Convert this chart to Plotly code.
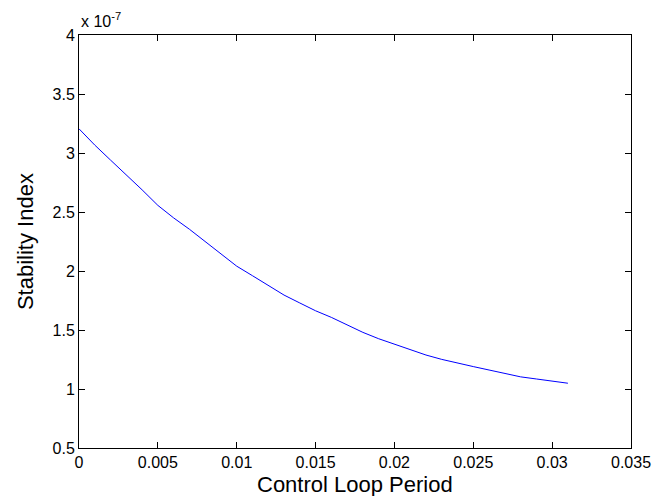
import plotly.graph_objects as go

# Data (y values in units of 1e-7)
control_loop_period = [0.000, 0.001, 0.002, 0.003, 0.004, 0.005, 0.006, 0.007,
                       0.008, 0.009, 0.010, 0.011, 0.012, 0.013, 0.014, 0.015,
                       0.016, 0.017, 0.018, 0.019, 0.020, 0.021, 0.022, 0.023,
                       0.024, 0.025, 0.026, 0.027, 0.028, 0.029, 0.030, 0.031]
stability_index_e7 = [3.205, 3.067, 2.940, 2.816, 2.688, 2.556, 2.450, 2.354,
                      2.251, 2.146, 2.041, 1.960, 1.875, 1.796, 1.729, 1.663,
                      1.607, 1.540, 1.480, 1.426, 1.380, 1.336, 1.288, 1.251,
                      1.218, 1.190, 1.161, 1.130, 1.103, 1.085, 1.065, 1.049]

x_ticks = [0, 0.005, 0.01, 0.015, 0.02, 0.025, 0.03, 0.035]
y_ticks = [0.5, 1, 1.5, 2, 2.5, 3, 3.5, 4]

W, H = 663, 496
L, R, T, B = 79, 26, 35, 48

font = "Liberation Sans, Arial, Helvetica, sans-serif"

fig = go.Figure()
fig.add_trace(go.Scatter(
    x=control_loop_period, y=stability_index_e7, mode="lines",
    line=dict(color="#0000FF", width=1), showlegend=False,
))

axis_common = dict(
    showgrid=False, zeroline=False, showline=True, linecolor="black",
    linewidth=1, mirror="ticks", ticks="inside", ticklen=6, tickwidth=1,
    tickcolor="black", tickfont=dict(family=font, size=16, color="black"),
)

fig.update_xaxes(range=[0, 0.035], tickvals=x_ticks,
                 ticktext=[("%g" % v) for v in x_ticks], **axis_common)
fig.update_yaxes(range=[0.5, 4], tickvals=y_ticks,
                 ticktext=[("%g" % v) for v in y_ticks], **axis_common)

pw = W - L - R
ph = H - T - B

def px_x(p):
    return (p - L) / pw

def px_y(p):
    return (H - B - p) / ph

fig.add_annotation(text="Control Loop Period", xref="paper", yref="paper",
                   x=px_x(L + pw / 2), y=px_y(484), showarrow=False,
                   xanchor="center", yanchor="middle",
                   font=dict(family=font, size=22, color="black"))
fig.add_annotation(text="Stability Index", xref="paper", yref="paper",
                   x=px_x(25), y=px_y(T + ph / 2), showarrow=False,
                   textangle=-90, xanchor="center", yanchor="middle",
                   font=dict(family=font, size=22, color="black"))
fig.add_annotation(text="x 10<sup>-7</sup>", xref="paper", yref="paper",
                   x=px_x(79), y=px_y(32), showarrow=False,
                   xanchor="left", yanchor="bottom",
                   font=dict(family=font, size=16, color="black"))

fig.update_layout(
    width=W, height=H, margin=dict(l=L, r=R, t=T, b=B),
    paper_bgcolor="white", plot_bgcolor="white",
    font=dict(family=font, size=16, color="black"),
)

fig.write_html("out.html", config={"displayModeBar": False},
               post_script="document.body.style.margin='0';"
                           "document.body.style.overflow='hidden';")
